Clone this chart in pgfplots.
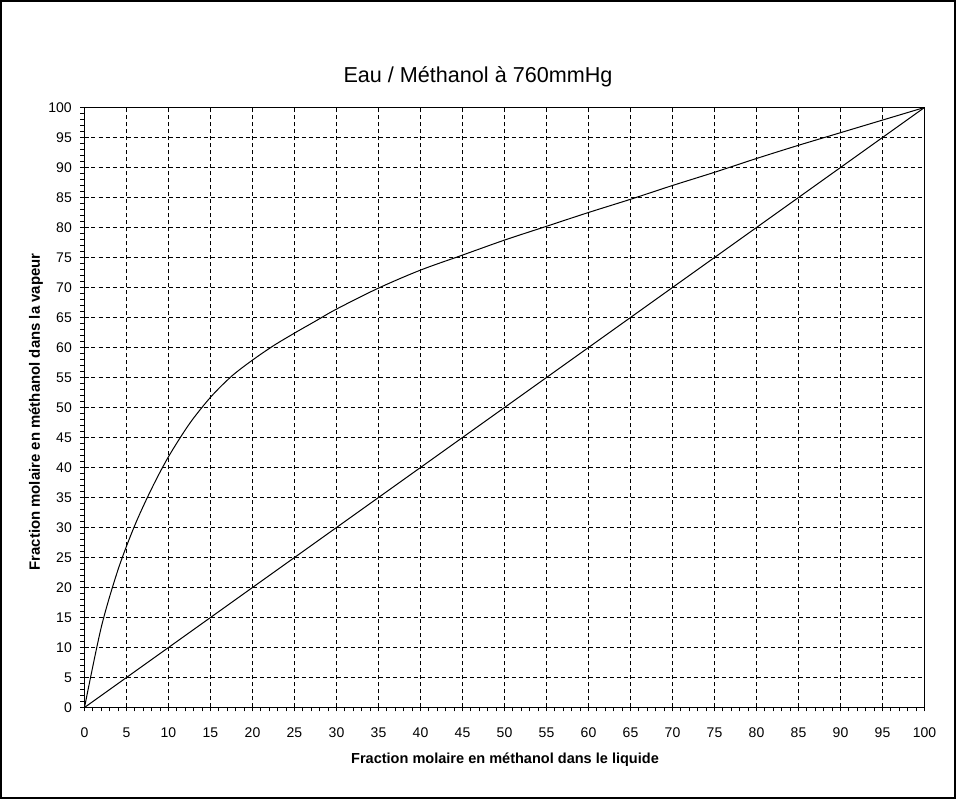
\documentclass[border=0pt]{standalone}
\usepackage{pgfplots}
\pgfplotsset{compat=1.18}
\usepackage{fontspec}
\setmainfont{Liberation Sans}
\begin{document}
\begin{tikzpicture}
\useasboundingbox (0,0) rectangle (717pt,599.25pt);
\draw[black, line width=1.5pt] (0.75pt,0.75pt) rectangle (716.25pt,598.5pt);
\begin{axis}[
  at={(63.375pt,68.625pt)}, anchor=south west,
  scale only axis,
  width=630pt, height=450pt,
  xmin=0, xmax=100, ymin=0, ymax=100,
  xtick={0,5,...,100}, ytick={0,5,...,100},
  minor x tick num=4, minor y tick num=4,
  tick pos=left,
  tick align=center,
  major tick length=6pt,
  minor tick length=3pt,
  minor x tick style={yshift=-1.5pt},
  minor y tick style={xshift=-1.5pt},
  every tick/.style={black, line width=0.75pt},
  grid=major,
  major grid style={black, line width=0.75pt, dash pattern=on 3pt off 2.25pt},
  axis line style={black, line width=0.75pt},
  /pgf/number format/assume math mode=true,
  ticklabel style={font=\fontsize{10.5}{12}\selectfont},
  xticklabel style={anchor=base, yshift=-19.5pt, text height=1.2ex, text depth=0pt},
  yticklabel style={anchor=east, xshift=-3pt},
  clip=false,
]
\addplot[black, line width=0.75pt, smooth] coordinates {
(0,0) (2,13.4) (4,23.0) (6,30.4) (8,36.5) (10,41.8) (12.5,47.3) (15,51.7) (17.5,55.2) (20,57.9)
(22.5,60.3) (25,62.4) (27.5,64.4) (30,66.4) (35,69.9) (40,72.9) (45,75.4) (50,77.9) (55,80.2) (60,82.5)
(65,84.7) (70,87.0) (75,89.2) (80,91.5) (85,93.7) (90,95.8) (95,97.9) (100,100)
};
\addplot[black, line width=0.75pt] coordinates {(0,0) (100,100)};
\end{axis}
\node[font=\fontsize{16.2}{19}\selectfont] at (358.5pt,541.5pt) {Eau / Méthanol à 760mmHg};
\node[font=\fontsize{10.9}{12}\selectfont\bfseries] at (378.75pt,29.25pt) {Fraction molaire en méthanol dans le liquide};
\node[font=\fontsize{11.2}{12}\selectfont\bfseries, rotate=90] at (27pt,290.25pt) {Fraction molaire en méthanol dans la vapeur};
\end{tikzpicture}
\end{document}
